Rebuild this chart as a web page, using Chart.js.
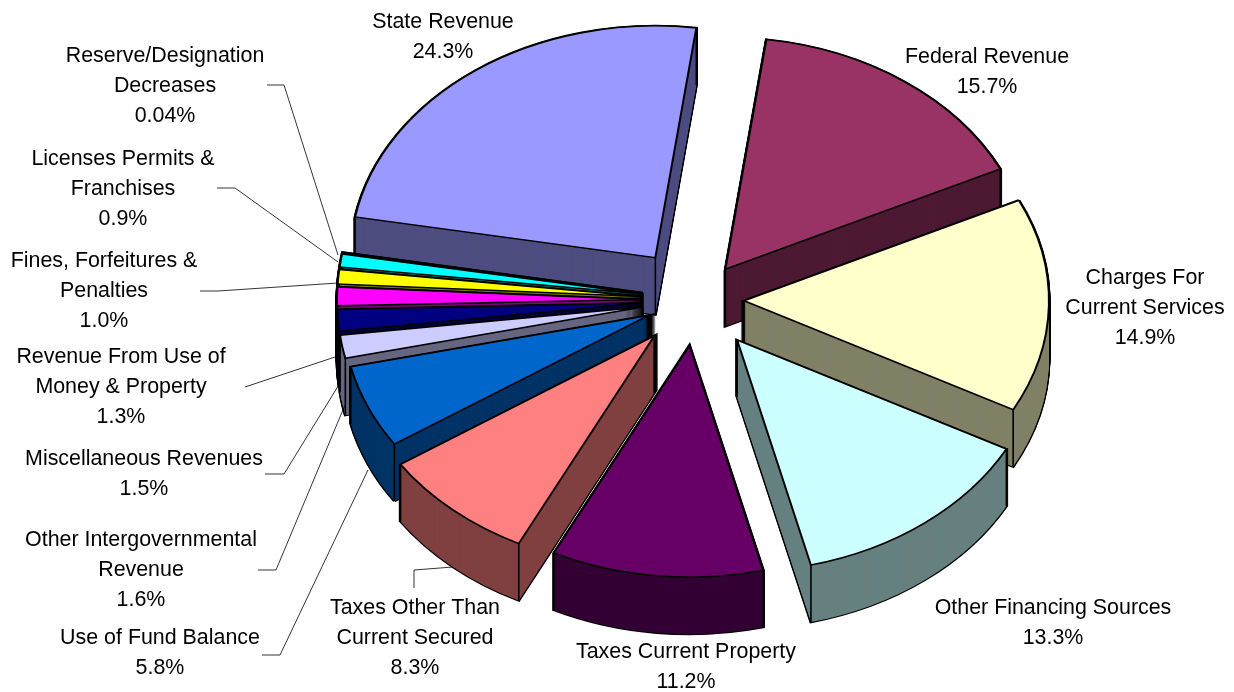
<!DOCTYPE html>
<html><head><meta charset="utf-8">
<style>html,body{margin:0;padding:0;background:#fff}canvas{display:block}</style>
<script src="https://cdn.jsdelivr.net/npm/chart.js@4"></script>
</head><body><canvas id="c" width="1234" height="692"></canvas>
<script>
const categories = ["State Revenue","Federal Revenue","Charges For Current Services","Other Financing Sources","Taxes Current Property","Taxes Other Than Current Secured","Use of Fund Balance","Other Intergovernmental Revenue","Miscellaneous Revenues","Revenue From Use of Money & Property","Fines, Forfeitures & Penalties","Licenses Permits & Franchises","Reserve/Designation Decreases"];
const shares = [24.3,15.7,14.9,13.3,11.2,8.3,5.8,1.6,1.5,1.3,1.0,0.9,0.04];
const shareText = ["24.3%","15.7%","14.9%","13.3%","11.2%","8.3%","5.8%","1.6%","1.5%","1.3%","1.0%","0.9%","0.04%"];
const sliceColors = ["#9999FF","#993366","#FFFFCC","#CCFFFF","#660066","#FF8080","#0066CC","#CCCCFF","#000080","#FF00FF","#FFFF00","#00FFFF","#800080"];
const wallColors  = ["#4D4D80","#4D1A33","#808066","#668080","#330033","#804040","#003366","#666680","#000040","#800080","#808000","#008080","#400040"];
const explode = [69,50,48,67,60,63,52,54,54,54,54,54,54];
const labelLines = [["State Revenue"],["Federal Revenue"],["Charges For","Current Services"],["Other Financing Sources"],["Taxes Current Property"],["Taxes Other Than","Current Secured"],["Use of Fund Balance"],["Other Intergovernmental","Revenue"],["Miscellaneous Revenues"],["Revenue From Use of","Money & Property"],["Fines, Forfeitures &","Penalties"],["Licenses Permits &","Franchises"],["Reserve/Designation","Decreases"]];
const labelAnchors = [[443,22],[987,57],[1145,278],[1053,608],[686,652],[415,608],[160,638],[141,540],[144,459],[121,357],[104,261],[123,159],[165,56]];
const leaders = [[],[],[],[],[],[[414,588],[414,570],[453,567]],[[262,655],[280,655],[368,470]],[[258,570],[276,570],[345,405]],[[265,474],[284,474],[340,383]],[[245,387],[338,356]],[[200,291],[218,291],[338,283]],[[217,188],[235,188],[338,262]],[[267,85],[284,85],[338,255]]];
const TILT = 0.76, DEPTH = 57, RADIUS = 305;

function arcOpts(fill, stroke, width){
  return {offset:0,spacing:0,circular:true,borderAlign:'center',backgroundColor:fill,borderColor:stroke,borderWidth:width,borderDash:[],borderDashOffset:0,borderJoinStyle:'miter'};
}
const pie3d = {
  id:'pie3d',
  beforeDatasetDraw(chart,args){
    const ctx = chart.ctx, arcs = args.meta.data;
    const order = arcs.map((a,i)=>i).sort((p,q)=>{
      const mp=(arcs[p].startAngle+arcs[p].endAngle)/2, mq=(arcs[q].startAngle+arcs[q].endAngle)/2;
      return Math.sin(mp)-Math.sin(mq);
    });
    order.forEach(i=>{
      const el = arcs[i], saved = el.options;
      const mid = (el.startAngle+el.endAngle)/2;
      const ex = Math.cos(mid)*explode[i], ey = Math.sin(mid)*explode[i];
      const place = d => { ctx.translate(ex, d + el.y*(1-TILT) + ey*TILT); ctx.scale(1,TILT); };
      const drawAt = (d,o) => { el.options=o; ctx.save(); place(d); el.draw(ctx); ctx.restore(); };
      const black = arcOpts('#000','#000',3), wall = arcOpts(wallColors[i],wallColors[i],1);
      for(let d=DEPTH;d>=0;d--) drawAt(d,black);
      for(let d=DEPTH;d>=0;d--) drawAt(d,arcOpts(wallColors[i],wallColors[i],0));
      ctx.save();
      ctx.strokeStyle='#000'; ctx.lineWidth=1.6;
      const corners = [[el.x,el.y],
        [el.x+Math.cos(el.startAngle)*el.outerRadius, el.y+Math.sin(el.startAngle)*el.outerRadius],
        [el.x+Math.cos(el.endAngle)*el.outerRadius, el.y+Math.sin(el.endAngle)*el.outerRadius]];
      corners.forEach(p=>{
        const sx=p[0]+ex, sy=el.y+(p[1]-el.y)*TILT+ey*TILT;
        ctx.beginPath(); ctx.moveTo(sx,sy); ctx.lineTo(sx,sy+DEPTH); ctx.stroke();
      });
      ctx.restore();
      drawAt(0,arcOpts(sliceColors[i],'#000',2));
      el.options = saved;
    });
    return false;
  },
  afterDraw(chart){
    const ctx = chart.ctx;
    ctx.save();
    ctx.strokeStyle='#000'; ctx.lineWidth=0.8;
    leaders.forEach(l=>{
      if(!l.length) return;
      ctx.beginPath();
      l.forEach((p,k)=> k?ctx.lineTo(p[0],p[1]):ctx.moveTo(p[0],p[1]));
      ctx.stroke();
    });
    ctx.fillStyle='#000'; ctx.font='21.4px "Liberation Sans", Arial, sans-serif';
    ctx.textAlign='center'; ctx.textBaseline='middle';
    labelLines.forEach((lines,i)=>{
      const [x,y]=labelAnchors[i];
      lines.concat(shareText[i]).forEach((t,k)=>ctx.fillText(t,x,y+k*30));
    });
    ctx.restore();
  }
};
new Chart(document.getElementById('c'),{
  type:'pie',
  data:{labels:categories,datasets:[{data:shares,backgroundColor:sliceColors,borderColor:'#000',borderWidth:2}]},
  options:{
    responsive:false,animation:false,
    rotation:-79.9,radius:RADIUS,
    layout:{padding:{left:158,bottom:92}},
    plugins:{legend:{display:false},tooltip:{enabled:false},title:{display:false}}
  },
  plugins:[pie3d]
});
</script></body></html>
